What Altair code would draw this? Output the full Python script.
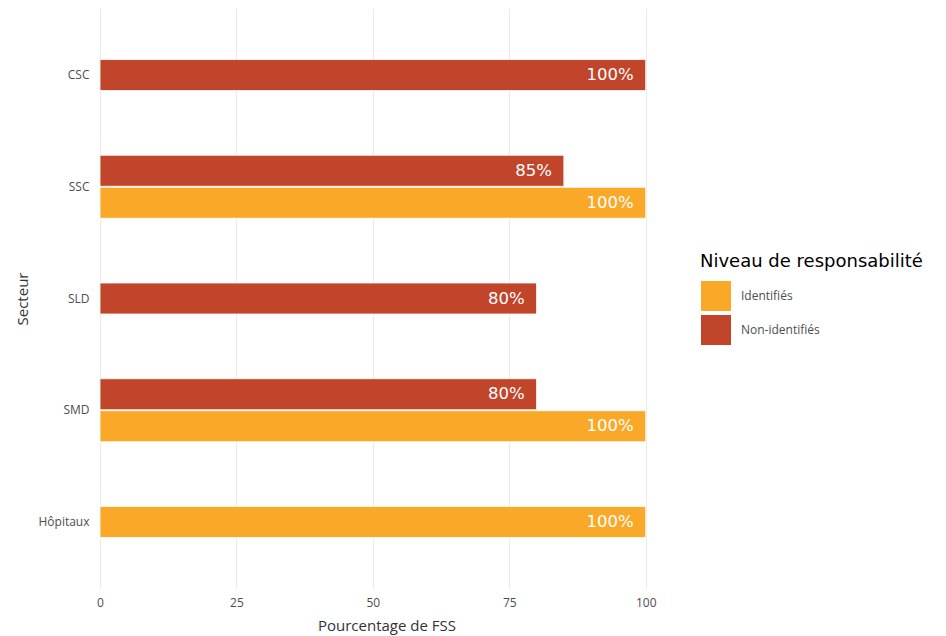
import altair as alt
import pandas as pd

secteurs = ["CSC", "SSC", "SSC", "SLD", "SMD", "SMD", "Hôpitaux"]
niveaux = ["Non-identifiés", "Non-identifiés", "Identifiés", "Non-identifiés",
           "Non-identifiés", "Identifiés", "Identifiés"]
valeurs = [100, 85, 100, 80, 80, 100, 100]

ordre_secteurs = ["CSC", "SSC", "SLD", "SMD", "Hôpitaux"]
ordre_niveaux = ["Identifiés", "Non-identifiés"]
couleurs = ["#F9A828", "#C1452B"]

df = pd.DataFrame({"Secteur": secteurs, "Niveau": niveaux, "Valeur": valeurs})
df["Label"] = df["Valeur"].astype(str) + "%"
counts = df.groupby("Secteur")["Secteur"].transform("count")
df["slot"] = "single"
df.loc[(counts == 2) & (df["Niveau"] == "Non-identifiés"), "slot"] = "top"
df.loc[(counts == 2) & (df["Niveau"] == "Identifiés"), "slot"] = "bottom"

yenc = alt.Y("Secteur:N", sort=ordre_secteurs,
             scale=alt.Scale(paddingInner=0, paddingOuter=0.1),
             axis=alt.Axis(title="Secteur", labelFont="Open Sans", labelFontSize=12,
                           labelColor="#4d4d4d", titleFont="Open Sans", titleFontSize=15,
                           titleFontWeight="normal", titleColor="#333333",
                           ticks=False, domain=False, grid=False, labelPadding=11,
                           titlePadding=7))
xenc = alt.X("Valeur:Q", scale=alt.Scale(domain=[0, 105], nice=False),
             axis=alt.Axis(title="Pourcentage de FSS", values=[0, 25, 50, 75, 100],
                           labelFont="Open Sans", labelFontSize=12, labelColor="#4d4d4d",
                           titleFont="Open Sans", titleFontSize=15, titleFontWeight="normal",
                           titleColor="#333333", ticks=False, domain=False,
                           gridColor="#ebebeb", gridWidth=1, labelPadding=8,
                           titlePadding=10, labelFlush=False))
color = alt.Color("Niveau:N", scale=alt.Scale(domain=ordre_niveaux, range=couleurs),
                  legend=alt.Legend(title="Niveau de responsabilité", orient="none",
                                    legendX=600, legendY=245, titleLimit=500,
                                    titleFont="DejaVu Sans", titleFontSize=18,
                                    titleFontWeight="normal", titleColor="#000000",
                                    titlePadding=9,
                                    labelFont="Open Sans", labelFontSize=12,
                                    labelColor="#4d4d4d", labelOffset=9,
                                    symbolType="square", symbolSize=961,
                                    symbolStrokeColor="white", symbolStrokeWidth=1,
                                    symbolOpacity=1, rowPadding=-3))

offsets = {"top": -16, "bottom": 16, "single": 0}
layers = []
for slot, off in offsets.items():
    base = alt.Chart(df).transform_filter(alt.datum.slot == slot)
    bars = base.mark_bar(height=31, yOffset=off, stroke="white", strokeWidth=0.8).encode(
        x=xenc, y=yenc, color=color)
    texts = base.mark_text(yOffset=off, align="right", baseline="middle", dx=-12,
                           color="white", font="DejaVu Sans", fontSize=16.5).encode(
        x="Valeur:Q", y=alt.Y("Secteur:N", sort=ordre_secteurs), text="Label:N")
    layers += [bars, texts]

chart = alt.layer(*layers).properties(
    width=573, height=581,
    padding={"left": 7, "top": 0, "right": 5, "bottom": 5},
    background="white",
).configure_view(stroke=None)

chart.save("out.html", embed_options={"renderer": "svg", "actions": False})
